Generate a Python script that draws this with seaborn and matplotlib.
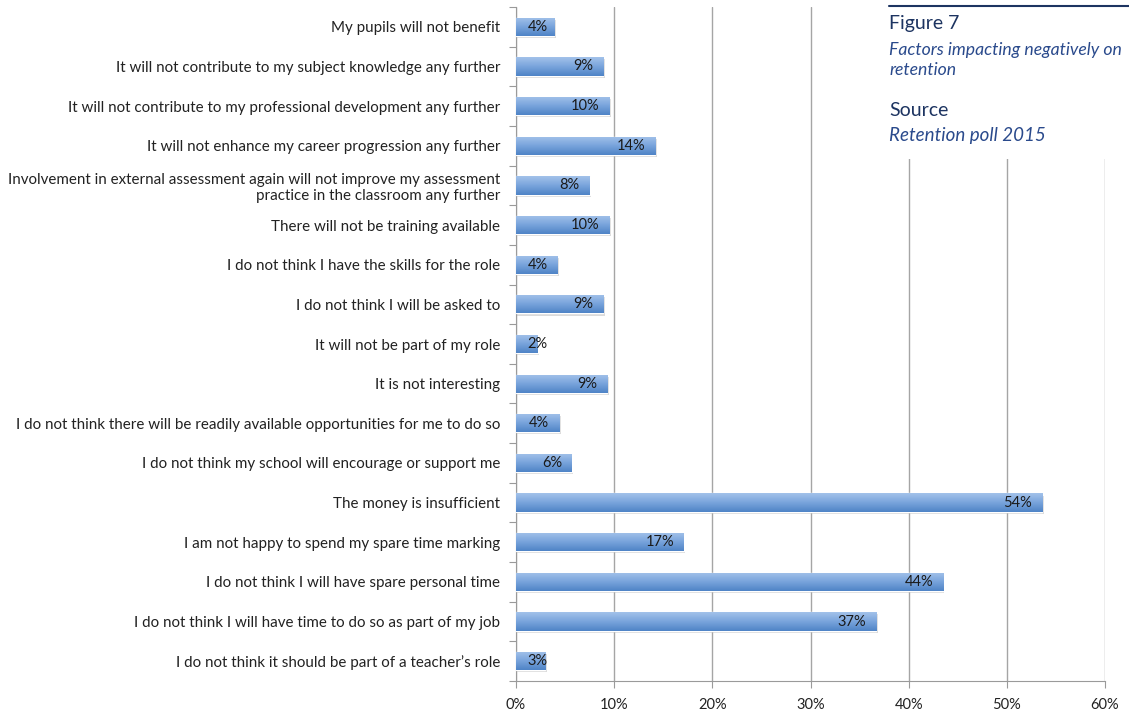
import numpy as np
import matplotlib
matplotlib.use("Agg")
import matplotlib.pyplot as plt
import matplotlib.patheffects as pe
from matplotlib.colors import LinearSegmentedColormap
from matplotlib.patches import Rectangle
import seaborn as sns

# Survey responses (share of respondents, %)
categories = [
    "My pupils will not benefit",
    "It will not contribute to my subject knowledge any further",
    "It will not contribute to my professional development any further",
    "It will not enhance my career progression any further",
    "Involvement in external assessment again will not improve my assessment\npractice in the classroom any further",
    "There will not be training available",
    "I do not think I have the skills for the role",
    "I do not think I will be asked to",
    "It will not be part of my role",
    "It is not interesting",
    "I do not think there will be readily available opportunities for me to do so",
    "I do not think my school will encourage or support me",
    "The money is insufficient",
    "I am not happy to spend my spare time marking",
    "I do not think I will have spare personal time",
    "I do not think I will have time to do so as part of my job",
    "I do not think it should be part of a teacher\u2019s role",
]
values = [3.9, 8.9, 9.5, 14.2, 7.5, 9.5, 4.2, 8.9, 2.2, 9.3, 4.4, 5.7, 53.6, 17.1, 43.5, 36.7, 3.0]
x_ticks = [0, 10, 20, 30, 40, 50, 60]
x_tick_labels = ["0%", "10%", "20%", "30%", "40%", "50%", "60%"]

sns.set_theme(style="white")
plt.rcParams["font.family"] = ["Lato", "DejaVu Sans"]

fig = plt.figure(figsize=(11.29, 7.14), dpi=100)
ax = fig.add_axes([516 / 1129, 1 - 681 / 714, (1105 - 516) / 1129, (681 - 7) / 714])

sns.barplot(x=values, y=categories, orient="h", color="#6f9bd6", width=0.46,
            ax=ax, zorder=3, saturation=1)

# vertical gradient fill (light on top, darker below) with a soft drop shadow
grad = LinearSegmentedColormap.from_list("bar", ["#a3c2ea", "#79a4dc", "#4f84c6"])
gimg = np.linspace(0, 1, 64).reshape(-1, 1)
for patch in ax.patches:
    patch.set_path_effects([pe.SimplePatchShadow(offset=(1.0, -1.5), shadow_rgbFace="#b0b0b0", alpha=0.45),
                            pe.Normal()])
    x0, y0 = patch.get_x(), patch.get_y()
    w, h = patch.get_width(), patch.get_height()
    im = ax.imshow(gimg, cmap=grad, aspect="auto", extent=(x0, x0 + w, y0 + h, y0),
                   origin="upper", zorder=4, interpolation="bicubic")
    im.set_clip_path(patch)

# value labels just inside the bar end
for i, v in enumerate(values):
    xr = max(v - 1.0, 3.25)
    ax.text(xr, i, f"{round(v):.0f}%", ha="right", va="center", fontsize=10.5,
            color="#1a1a1a", zorder=6)

ax.set_xlim(0, 60)
ax.set_ylim(len(categories) - 0.5, -0.5)
ax.set_xticks(x_ticks)
ax.set_xticklabels(x_tick_labels, fontsize=10.5, color="#222222")
ax.tick_params(axis="x", length=5, width=0.8, color="#9a9a9a", pad=7, bottom=True)
ax.tick_params(axis="y", which="major", length=0, pad=11.5, labelsize=10.9, labelcolor="#222222")
ax.set_yticks(np.arange(-0.5, len(categories) + 0.5), minor=True)
ax.tick_params(axis="y", which="minor", length=5, width=0.8, color="#9a9a9a", left=True)
for lbl in ax.get_yticklabels():
    lbl.set_multialignment("right")

ax.grid(axis="x", color="#a5a5a5", linewidth=1.0, zorder=0)
ax.set_axisbelow(True)
for side in ["top", "right"]:
    ax.spines[side].set_visible(False)
for side in ["left", "bottom"]:
    ax.spines[side].set_color("#9a9a9a")
    ax.spines[side].set_linewidth(0.8)
ax.set_xlabel("")
ax.set_ylabel("")

# caption panel in the upper right
fig.patches.append(Rectangle((860 / 1129, 1 - 159 / 714), 1 - 860 / 1129, 159 / 714,
                             transform=fig.transFigure, facecolor="white",
                             edgecolor="none", zorder=5))
fig.add_artist(plt.Line2D([889 / 1129, 1.0], [1 - 6 / 714, 1 - 6 / 714],
                          transform=fig.transFigure, color="#1d3461", linewidth=1.5, zorder=6))
cap_font = ["Lato", "DejaVu Sans"]
fig.text(889 / 1129, 1 - 24 / 714, "Figure 7", fontsize=14, color="#1d3461",
         family=cap_font, va="center", zorder=7)
fig.text(889 / 1129, 1 - 60 / 714, "Factors impacting negatively on\nretention", fontsize=12.7,
         color="#2a4a8c", style="italic", family=cap_font, va="center",
         linespacing=1.38, zorder=7)
fig.text(889 / 1129, 1 - 110 / 714, "Source", fontsize=14, color="#1d3461",
         family=cap_font, va="center", zorder=7)
fig.text(889 / 1129, 1 - 135 / 714, "Retention poll 2015", fontsize=13.5,
         color="#2a4a8c", style="italic", family=cap_font, va="center", zorder=7)

fig.savefig("out.png", dpi=100, facecolor="white")
